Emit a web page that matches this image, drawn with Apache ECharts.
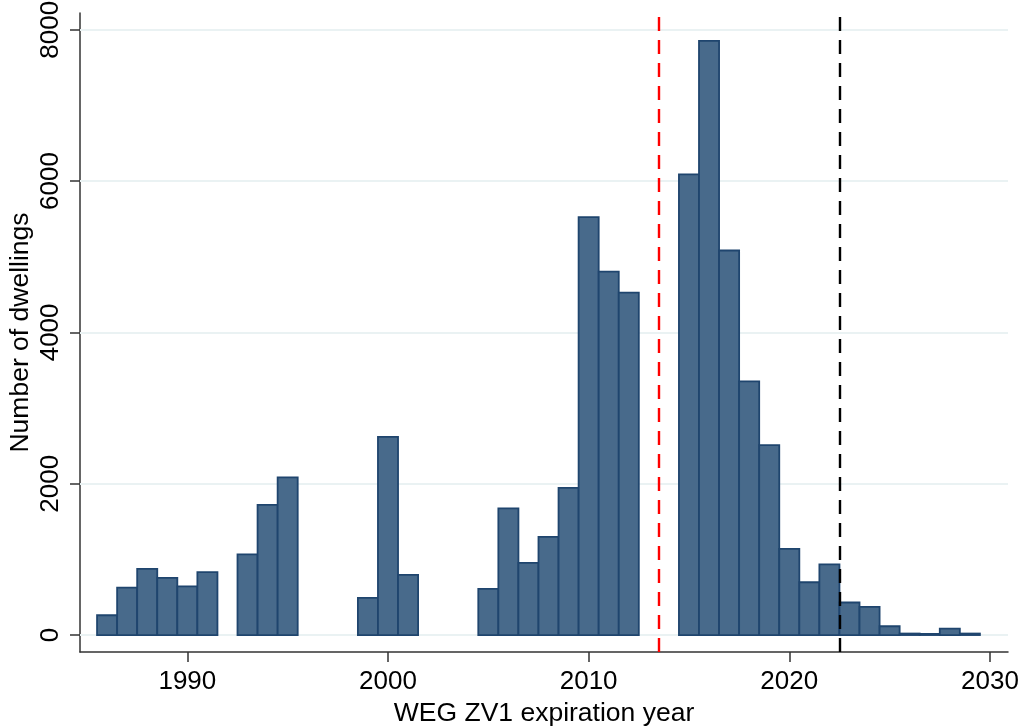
<!DOCTYPE html>
<html>
<head>
<meta charset="utf-8">
<script src="https://cdn.jsdelivr.net/npm/echarts@6/dist/echarts.min.js"></script>
<style>html,body{margin:0;padding:0;background:#fff;}#chart{width:1024px;height:728px;}</style>
</head>
<body>
<div id="chart"></div>
<script>
const years = [1986,1987,1988,1989,1990,1991,1993,1994,1995,1999,2000,2001,2005,2006,2007,2008,2009,2010,2011,2012,2015,2016,2017,2018,2019,2020,2021,2022,2023,2024,2025,2026,2027,2028,2029];
const dwellings = [262,628,874,755,642,831,1065,1721,2083,491,2620,795,610,1673,954,1298,1946,5523,4803,4525,6087,7853,5082,3353,2511,1138,698,933,430,372,116,20,15,86,20];
const xTicks = [1990,2000,2010,2020,2030];
const yTicks = [0,2000,4000,6000,8000];
const refLines = [2013.5, 2022.5];

const FONT = "'Liberation Sans', Arial, sans-serif";
const chart = echarts.init(document.getElementById('chart'), null, {renderer:'canvas'});
const data = years.map((y,i)=>[y, dwellings[i]]);
const plain = v => String(v);

chart.setOption({
  animation:false,
  backgroundColor:'#ffffff',
  grid:{left:80, right:16, top:13, bottom:76, outerBoundsMode:'none', containLabel:false},
  xAxis:{
    type:'value', min:1984.65, max:2030.9,
    name:'WEG ZV1 expiration year', nameLocation:'middle', nameGap:44,
    nameTextStyle:{fontFamily:FONT, fontSize:26.5, color:'#000'},
    axisLine:{show:true, onZero:false, lineStyle:{color:'#333', width:1.5}},
    axisTick:{show:true, length:10, customValues:xTicks, lineStyle:{color:'#333', width:1.5}},
    axisLabel:{customValues:xTicks, formatter:plain, margin:17, fontFamily:FONT, fontSize:26, color:'#000', showMinLabel:true, showMaxLabel:true, hideOverlap:false},
    splitLine:{show:false}
  },
  yAxis:{
    type:'value', min:-224, max:8221,
    name:'Number of dwellings', nameLocation:'middle', nameGap:46, nameRotate:90, nameMoveOverlap:false,
    nameTextStyle:{fontFamily:FONT, fontSize:26.5, color:'#000'},
    axisLine:{show:true, onZero:false, lineStyle:{color:'#333', width:1.5}},
    axisTick:{show:true, length:10, customValues:yTicks, lineStyle:{color:'#333', width:1.5}},
    axisLabel:{customValues:yTicks, formatter:plain, rotate:90, margin:16, fontFamily:FONT, fontSize:26, color:'#000', showMinLabel:true, showMaxLabel:true, hideOverlap:false},
    splitLine:{show:false}
  },
  series:[
    {
      type:'line', data:[], z:1, silent:true,
      markLine:{silent:true, symbol:'none', label:{show:false}, z:1,
        lineStyle:{color:'#EAF2F3', width:2, type:'solid'},
        data:yTicks.map(v=>({yAxis:v}))}
    },
    {
      type:'custom', z:2, data:data, encode:{x:0, y:1},
      renderItem:function(params, api){
        const x = api.value(0), v = api.value(1);
        const p0 = api.coord([x-0.5, v]);
        const p1 = api.coord([x+0.5, 0]);
        return {type:'rect', shape:{x:p0[0], y:p0[1], width:p1[0]-p0[0], height:p1[1]-p0[1]},
          style:{fill:'#486A8B', stroke:'#1F456E', lineWidth:1.8}};
      }
    },
    {
      type:'line', data:[], z:3, silent:true,
      markLine:{silent:true, symbol:'none', label:{show:false}, z:10,
        data:[
          {xAxis:refLines[0], lineStyle:{color:'#FF0000', width:2.4, type:[14,9]}},
          {xAxis:refLines[1], lineStyle:{color:'#000000', width:2.4, type:[14,9]}}
        ]}
    }
  ]
});
</script>
</body>
</html>
